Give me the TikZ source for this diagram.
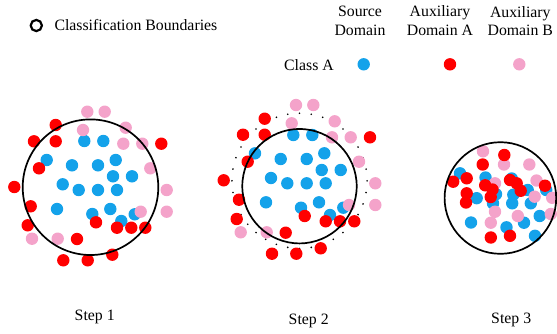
\documentclass[tikz,border=0pt]{standalone}
\usepackage{fontspec}
\setmainfont{Liberation Serif}
\definecolor{cblue}{HTML}{14A2EA}
\definecolor{cred}{HTML}{FF0000}
\definecolor{cpink}{HTML}{F4A3CA}
\begin{document}
\begin{tikzpicture}[x=1pt,y=-1pt,
  lbl/.style={inner sep=0pt,font=\fontsize{15.8}{18}\selectfont,anchor=base},
  bound/.style={draw=black,line width=1.7pt},
  dotb/.style={draw=black,line width=1.8pt,line cap=round,dash pattern=on 0pt off 11.8pt}]
\useasboundingbox (0,0) rectangle (557,333);
\def\R{6.2}
% legend
\draw[line width=2.2pt] (36.3,25.5) circle (5.6);
\node[lbl,anchor=base west] (lcb) at (54.3,30) {Classification Boundaries};
\node[lbl] (src1) at (360,16.5) {Source};
\node[lbl] (src2) at (360,35) {Domain};
\node[lbl] (auxa1) at (440,16.8) {Auxiliary};
\node[lbl] (auxa2) at (440,35.2) {Domain A};
\node[lbl] (auxb1) at (520.3,17.2) {Auxiliary};
\node[lbl] (auxb2) at (520.3,35.6) {Domain B};
\node[lbl,anchor=base west] (cla) at (284,70) {Class A};
\fill[cblue] (363.7,64.3) circle (\R);
\fill[cred] (450,64.3) circle (\R);
\fill[cpink] (519.3,64.3) circle (\R);
% ---------- Step 1 ----------
\foreach \p in {(84.3,141),(103.3,141),(46.7,160),(72,165.3),(98,165.3),(115.7,160),(113,176.3),(132,176.3),(62.7,184.3),(78.7,190),(98,190),(117,190),(57,209),(110.3,209),(92.3,214),(121.3,221),(134.7,214.3)}
  \fill[cblue] \p circle (\R);
\foreach \p in {(87.3,111.7),(104.7,111.7),(83,130),(125.7,127.7),(123.3,143.7),(142.3,143.7),(150.3,168.3),(166.7,190),(166.7,211.7),(140.7,211.7),(32,238.7),(57.7,238.7)}
  \fill[cpink] \p circle (\R);
\foreach \p in {(55.7,125),(34,141.3),(55.7,141.3),(161.3,143.7),(39,168.3),(14.3,187),(30.7,206.3),(27.7,225.3),(77,239),(96,222.3),(117,227.7),(131.3,227.7),(145.3,227.7),(63.3,260.3),(87.7,260.3),(112.3,254.7)}
  \fill[cred] \p circle (\R);
\draw[bound] (90.5,187.2) circle (67.8);
% ---------- Step 2 ----------
\draw[dotb] (299.5,180.8) circle (67.6);
\foreach \p in {(293.3,135),(312.3,135),(255,153.3),(280.7,159),(306.7,159),(324.3,153.3),(321.7,170),(340.7,170),(271,178),(287.3,183.3),(306.7,183.3),(325.7,183.3),(266,202.3),(319,202.3),(301,207.7),(330,215),(343.3,207.7)}
  \fill[cblue] \p circle (\R);
\foreach \p in {(296,105),(313.3,105),(291.7,123.3),(334.7,121.3),(332,137.3),(350.7,137.3),(359,161.7),(375.3,183.3),(375.3,205),(349,205),(240.7,232.3),(266.7,232.3)}
  \fill[cpink] \p circle (\R);
\foreach \p in {(264.7,118.7),(243,134.7),(264.7,134.7),(370,137.3),(247.7,161.7),(223.7,180.3),(239,199.7),(236.7,219),(285.7,232.7),(304.7,216),(325.7,221.3),(340,221.3),(354.3,221.3),(272,253.7),(296.3,253.7),(320.7,248.3)}
  \fill[cred] \p circle (\R);
\draw[bound] (299.5,186.2) circle (57.2);
% ---------- Step 3 ----------
\foreach \p in {(460,173.3),(485.5,177.5),(511.7,178.5),(476.7,198.2),(496,194.2),(493,203.3),(513.3,194.7),(512.2,203.3),(527.7,190),(530.8,203.3),(546.2,190),(539.7,216),(524,222.7),(471,222.5),(506.5,227.3),(535,235.8)}
  \fill[cblue] \p circle (\R);
\foreach \p in {(483,151.3),(504,164.5),(529.3,164.5),(536.5,180.5),(495,183.3),(534.7,196.7),(552.2,197.8),(495,211.7),(517.8,216),(550.8,214),(490.8,222.7)}
  \fill[cpink] \p circle (\R);
\foreach \p in {(504.3,155),(482.7,164.5),(466.7,178.3),(453.2,181.7),(466.7,193.3),(466,202.5),(485.2,185.3),(492.5,189.5),(490.7,197),(510,180),(516.7,183.3),(520.7,190.8),(545,185.7),(490.8,237.5),(510,235.8)}
  \fill[cred] \p circle (\R);
\draw[bound] (500.4,198) circle (55.8);
% step labels
\node[lbl] (s1) at (94.7,320.5) {Step 1};
\node[lbl] (s2) at (308.7,324.5) {Step 2};
\node[lbl] (s3) at (511.2,323.7) {Step 3};
\end{tikzpicture}
\end{document}
